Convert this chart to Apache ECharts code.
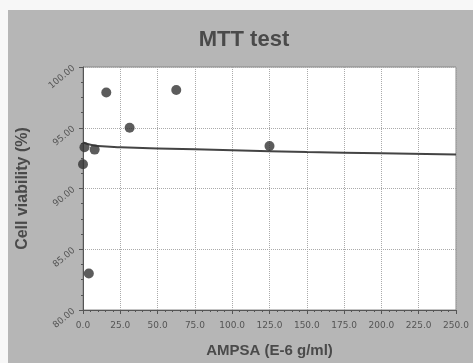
<!DOCTYPE html>
<html>
<head>
<meta charset="utf-8">
<script src="https://cdn.jsdelivr.net/npm/echarts@6/dist/echarts.min.js"></script>
<style>
  html, body { margin: 0; padding: 0; background: #f7f7f7; }
  #chart { width: 473px; height: 363px; }
</style>
</head>
<body>
<div id="chart"></div>
<script>
// measured points (AMPSA conc, viability %)
var doseX = [0, 0.98, 3.9, 7.8, 15.6, 31.25, 62.5, 125];
var viability = [92.0, 93.4, 83.0, 93.2, 97.9, 95.0, 98.1, 93.5];
// fitted trend line
var fitX = [0, 5, 10, 25, 50, 100, 150, 200, 250];
var fitY = [93.8, 93.6, 93.5, 93.4, 93.3, 93.15, 93.0, 92.9, 92.8];

var chart = echarts.init(document.getElementById("chart"));

var axisGrey = "#555";
var labelStyle = { color: "#555", fontSize: 9, fontFamily: "DejaVu Sans" };

var option = {
  backgroundColor: "#f7f7f7",
  animation: false,
  graphic: [
    {
      type: "rect",
      z: -10,
      shape: { x: 8, y: 10, width: 465, height: 353 },
      style: { fill: "#b6b6b6" }
    }
  ],
  title: {
    text: "MTT test",
    left: 239,
    textAlign: "center",
    top: 24,
    textStyle: { color: "#4a4a4a", fontSize: 22, fontWeight: "bold", fontFamily: "Liberation Sans" }
  },
  grid: {
    left: 83,
    right: 17,
    top: 67,
    bottom: 52,
    show: true,
    backgroundColor: "#fff",
    borderColor: "#888",
    borderWidth: 1
  },
  xAxis: {
    type: "value",
    min: 0,
    max: 250,
    interval: 25,
    name: "AMPSA (E-6 g/ml)",
    nameLocation: "middle",
    nameGap: 33,
    nameTextStyle: { color: "#4a4a4a", fontSize: 15, fontWeight: "bold", fontFamily: "Liberation Sans" },
    axisLine: { show: true, lineStyle: { color: axisGrey, width: 1 } },
    axisTick: { show: true, length: 4, lineStyle: { color: axisGrey } },
    minorTick: { show: true, splitNumber: 5, length: 2, lineStyle: { color: axisGrey } },
    axisLabel: Object.assign({ margin: 11, formatter: function (v) { return v.toFixed(1); } }, labelStyle),
    splitLine: { show: true, lineStyle: { color: "#aaa", type: "dotted", width: 1 } }
  },
  yAxis: {
    type: "value",
    min: 80,
    max: 100,
    interval: 5,
    name: "Cell viability (%)",
    nameLocation: "middle",
    nameGap: 52,
    nameTextStyle: { color: "#4a4a4a", fontSize: 16, fontWeight: "bold", fontFamily: "Liberation Sans" },
    axisLine: { show: true, lineStyle: { color: axisGrey, width: 1 } },
    axisTick: { show: true, length: 4, lineStyle: { color: axisGrey } },
    minorTick: { show: true, splitNumber: 4, length: 2, lineStyle: { color: axisGrey } },
    axisLabel: Object.assign({ margin: 9, rotate: 40, formatter: function (v) { return v.toFixed(2); } }, labelStyle),
    splitLine: { show: true, lineStyle: { color: "#aaa", type: "dotted", width: 1 } }
  },
  series: [
    {
      type: "line",
      data: fitX.map(function (x, i) { return [x, fitY[i]]; }),
      smooth: true,
      showSymbol: false,
      lineStyle: { color: "#444", width: 2 },
      z: 2
    },
    {
      type: "scatter",
      data: doseX.map(function (x, i) { return [x, viability[i]]; }),
      symbolSize: 10,
      itemStyle: { color: "#333" },
      z: 3
    }
  ]
};

chart.setOption(option);
</script>
</body>
</html>
